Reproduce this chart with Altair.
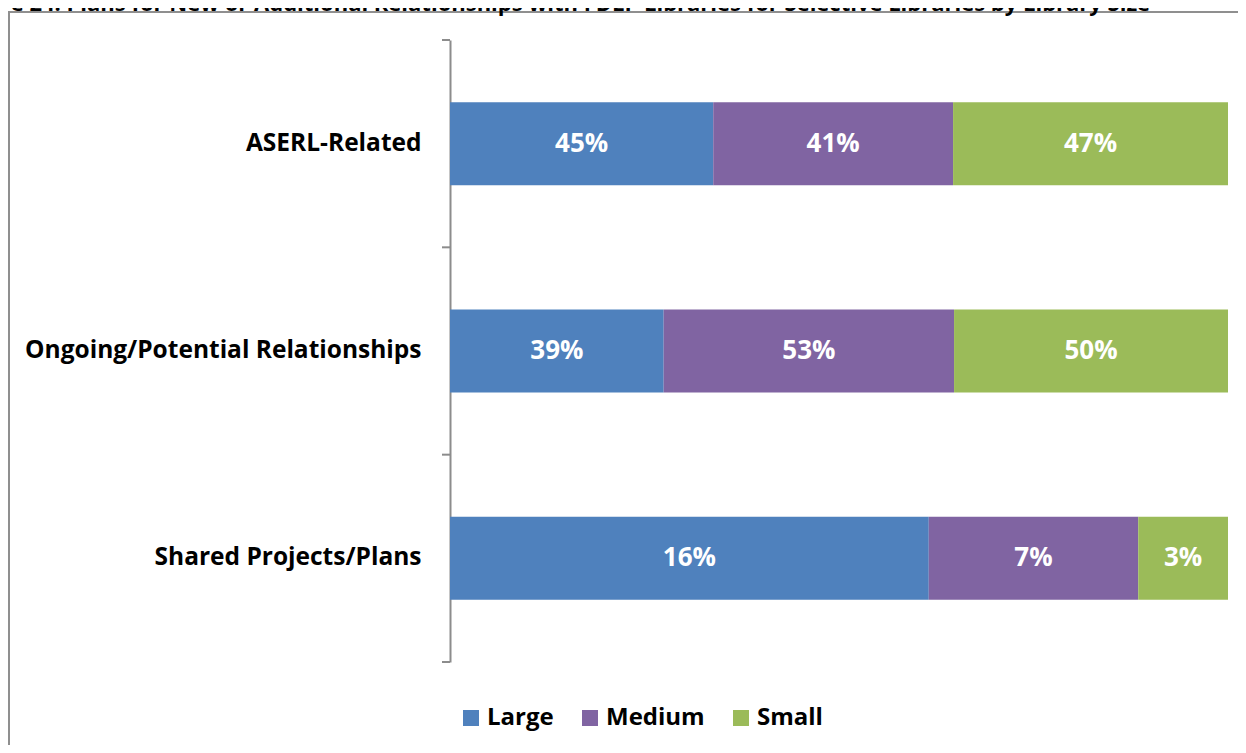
import altair as alt
import pandas as pd

categories = ["ASERL-Related", "Ongoing/Potential Relationships", "Shared Projects/Plans"]
sizes = ["Large", "Medium", "Small"]
large = [45, 39, 16]
medium = [41, 53, 7]
small = [47, 50, 3]
colors = ["#4F81BD", "#8064A2", "#9BBB59"]
title_text = "Figure 24: Plans for New or Additional Relationships with FDLP Libraries for Selective Libraries by Library Size"

FONT = "Open Sans"
W, H = 778, 622
AXIS_GRAY = "#8c8c8c"

rows = []
for i, c in enumerate(categories):
    for j, (s, vals) in enumerate(zip(sizes, [large, medium, small])):
        rows.append({"category": c, "size": s, "order": j, "value": vals[i]})
df = pd.DataFrame(rows)

base = alt.Chart(df).transform_stack(
    stack="value", groupby=["category"], as_=["x0", "x1"], offset="normalize",
    sort=[alt.SortField("order", order="ascending")]
).transform_calculate(mid="(datum.x0 + datum.x1) / 2", label="datum.value + '%'")

yaxis = alt.Axis(
    title=None, ticks=False, domainColor=AXIS_GRAY, domainWidth=2,
    labelPadding=29,
    labelFont=FONT, labelFontSize=24.5, labelFontWeight="bold", labelColor="black",
    labelLimit=0,
)
yscale = alt.Scale(paddingInner=0.6, paddingOuter=0.3)

bars = base.mark_bar().encode(
    x=alt.X("x0:Q", scale=alt.Scale(domain=[0, 1]), axis=None),
    x2="x1:Q",
    y=alt.Y("category:N", sort=categories, scale=yscale, axis=yaxis),
    color=alt.Color(
        "size:N", scale=alt.Scale(domain=sizes, range=colors),
        legend=alt.Legend(
            title=None, orient="none", legendX=9, legendY=666, direction="horizontal",
            symbolType="square", symbolSize=256, symbolStrokeWidth=0, symbolOpacity=1,
            labelFont=FONT, labelFontSize=24, labelFontWeight="bold", labelColor="black",
            labelOffset=4, columnPadding=24,
        ),
    ),
)

text = base.mark_text(color="white", font=FONT, fontSize=26, fontWeight="bold").encode(
    x="mid:Q",
    y=alt.Y("category:N", sort=categories),
    text="label:N",
)

one = pd.DataFrame({"a": [0]})
ticks = [
    alt.Chart(one).mark_rule(color=AXIS_GRAY, strokeWidth=2).encode(
        x=alt.value(-8), x2=alt.value(0), y=alt.value(i * H / 3)
    )
    for i in range(4)
]

title = alt.Chart(pd.DataFrame({"t": [title_text]})).mark_text(
    align="left", baseline="alphabetic", font=FONT, fontSize=22, fontWeight="bold", color="black"
).encode(x=alt.value(-495), y=alt.value(-29), text="t:N")

frame = alt.Chart(one).mark_rect(
    filled=False, stroke="#8f8f8f", strokeWidth=2
).encode(x=alt.value(-441), x2=alt.value(900), y=alt.value(-28), y2=alt.value(900))

chart = alt.layer(frame, title, *ticks, bars, text).properties(
    width=W, height=H,
    autosize=alt.AutoSizeParams(type="none"),
    padding={"left": 442, "top": 32, "right": 10, "bottom": 83},
).configure_view(stroke=None)

chart.save("out.html", embed_options={"renderer": "svg", "actions": False})
